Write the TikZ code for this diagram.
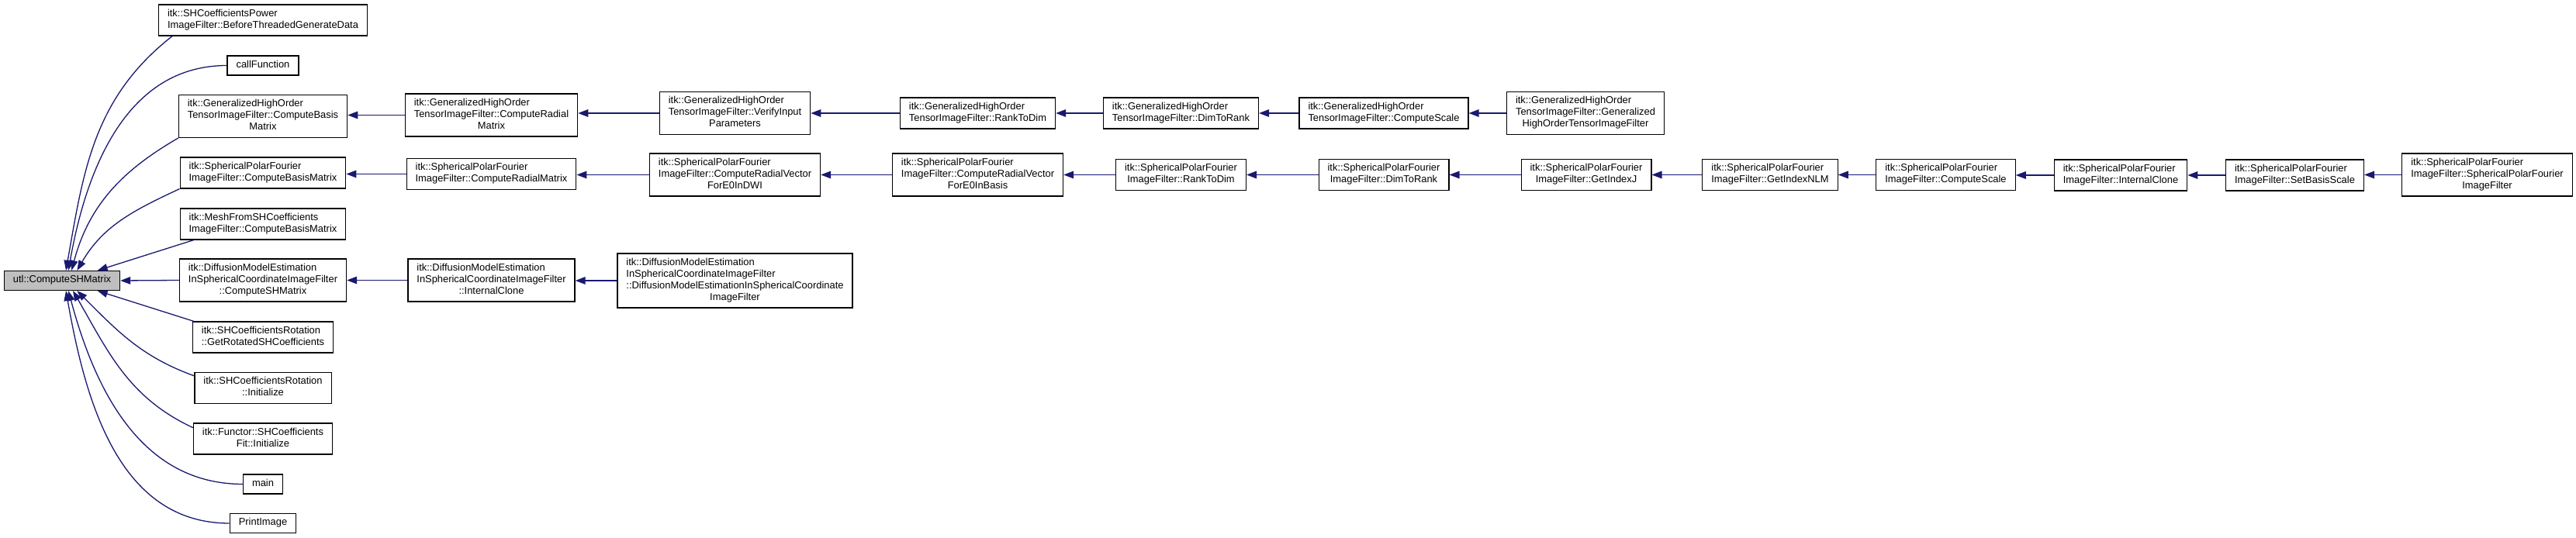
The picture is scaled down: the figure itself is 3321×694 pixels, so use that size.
\documentclass[tikz,border=0pt]{standalone}
\usepackage{fontspec}
\newfontfamily\doxfont{Liberation Sans}
\usetikzlibrary{arrows.meta}
\definecolor{DOX-NAVY}{RGB}{25, 25, 112}
\definecolor{DOX-GREY}{RGB}{191, 191, 191}
\newcommand{\fnlabel}[2]{\begin{tabular}{@{}l@{}}#1\\\multicolumn{1}{@{}c@{}}{#2}\end{tabular}}
\tikzset{
  fnbox/.style={draw=black, line width=0.6pt, fill=white, inner xsep=5.75pt, inner ysep=2.5pt,
    font=\doxfont\fontsize{6.45}{7.5}\selectfont},
  call/.style={DOX-NAVY, line width=0.65pt, >={Triangle[length=6.5pt,width=4.8pt]}},
}

\begin{document}
\begin{tikzpicture}[x=0.5pt, y=-0.5pt]
  \useasboundingbox (0,0) rectangle (3321,694);

  % Function of interest
  \node[fnbox, fill=DOX-GREY] (utl) at (80,362) {\strut utl::ComputeSHMatrix};

  % Direct callers
  \node[fnbox] (beforeTGD) at (339,26) {\fnlabel{itk::SHCoefficientsPower}{ImageFilter::BeforeThreadedGenerateData}};
  \node[fnbox] (callFn) at (339,84.5) {\strut callFunction};
  \node[fnbox] (ghoBasis) at (339,150) {\fnlabel{itk::GeneralizedHighOrder\\TensorImageFilter::ComputeBasis}{Matrix}};
  \node[fnbox] (spfBasis) at (339,223) {\fnlabel{itk::SphericalPolarFourier}{ImageFilter::ComputeBasisMatrix}};
  \node[fnbox] (meshBasis) at (339,289) {\fnlabel{itk::MeshFromSHCoefficients}{ImageFilter::ComputeBasisMatrix}};
  \node[fnbox] (dmeSH) at (339,361.5) {\fnlabel{itk::DiffusionModelEstimation\\InSphericalCoordinateImageFilter}{::ComputeSHMatrix}};
  \node[fnbox] (rotGet) at (339,435) {\fnlabel{itk::SHCoefficientsRotation}{::GetRotatedSHCoefficients}};
  \node[fnbox] (rotInit) at (339,500.5) {\fnlabel{itk::SHCoefficientsRotation}{::Initialize}};
  \node[fnbox] (fitInit) at (339,566) {\fnlabel{itk::Functor::SHCoefficients}{Fit::Initialize}};
  \node[fnbox] (mainFn) at (339,624.5) {\strut main};
  \node[fnbox] (printImg) at (339,675) {\strut PrintImage};

  % GeneralizedHighOrderTensorImageFilter chain
  \node[fnbox] (ghoRadial) at (633.5,148.5) {\fnlabel{itk::GeneralizedHighOrder\\TensorImageFilter::ComputeRadial}{Matrix}};
  \node[fnbox] (ghoVerify) at (947.5,146) {\fnlabel{itk::GeneralizedHighOrder\\TensorImageFilter::VerifyInput}{Parameters}};
  \node[fnbox] (ghoR2D) at (1260.5,146) {\fnlabel{itk::GeneralizedHighOrder}{TensorImageFilter::RankToDim}};
  \node[fnbox] (ghoD2R) at (1522.5,146) {\fnlabel{itk::GeneralizedHighOrder}{TensorImageFilter::DimToRank}};
  \node[fnbox] (ghoScale) at (1784,146) {\fnlabel{itk::GeneralizedHighOrder}{TensorImageFilter::ComputeScale}};
  \node[fnbox] (ghoCtor) at (2044,146) {\fnlabel{itk::GeneralizedHighOrder\\TensorImageFilter::Generalized}{HighOrderTensorImageFilter}};

  % SphericalPolarFourierImageFilter chain
  \node[fnbox] (spfRadial) at (633.5,224.5) {\fnlabel{itk::SphericalPolarFourier}{ImageFilter::ComputeRadialMatrix}};
  \node[fnbox] (spfVecDWI) at (947.5,225.5) {\fnlabel{itk::SphericalPolarFourier\\ImageFilter::ComputeRadialVector}{ForE0InDWI}};
  \node[fnbox] (spfVecBasis) at (1260.5,225.5) {\fnlabel{itk::SphericalPolarFourier\\ImageFilter::ComputeRadialVector}{ForE0InBasis}};
  \node[fnbox] (spfR2D) at (1522.5,225.5) {\fnlabel{itk::SphericalPolarFourier}{ImageFilter::RankToDim}};
  \node[fnbox] (spfD2R) at (1784,225.5) {\fnlabel{itk::SphericalPolarFourier}{ImageFilter::DimToRank}};
  \node[fnbox] (spfJ) at (2045,225.5) {\fnlabel{itk::SphericalPolarFourier}{ImageFilter::GetIndexJ}};
  \node[fnbox] (spfNLM) at (2282,225.5) {\fnlabel{itk::SphericalPolarFourier}{ImageFilter::GetIndexNLM}};
  \node[fnbox] (spfScale) at (2508.5,225.5) {\fnlabel{itk::SphericalPolarFourier}{ImageFilter::ComputeScale}};
  \node[fnbox] (spfClone) at (2734,226) {\fnlabel{itk::SphericalPolarFourier}{ImageFilter::InternalClone}};
  \node[fnbox] (spfSetScale) at (2958.5,226) {\fnlabel{itk::SphericalPolarFourier}{ImageFilter::SetBasisScale}};
  \node[fnbox] (spfCtor) at (3206.5,225.5) {\fnlabel{itk::SphericalPolarFourier\\ImageFilter::SphericalPolarFourier}{ImageFilter}};

  % DiffusionModelEstimation chain
  \node[fnbox] (dmeClone) at (633.5,361.5) {\fnlabel{itk::DiffusionModelEstimation\\InSphericalCoordinateImageFilter}{::InternalClone}};
  \node[fnbox] (dmeCtor) at (947.5,362) {\fnlabel{itk::DiffusionModelEstimation\\InSphericalCoordinateImageFilter\\::DiffusionModelEstimationInSphericalCoordinate}{ImageFilter}};

  % Edges into utl::ComputeSHMatrix
  \draw[call, <-] (utl.69) to[out=80, in=218] (beforeTGD.190);
  \draw[call, <-] (utl.58) to[out=80, in=180] (callFn.west);
  \draw[call, <-] (utl.47) to[out=75, in=210] (ghoBasis.south west);
  \draw[call, <-] (utl.34) to[out=60, in=205] (spfBasis.south west);
  \draw[call, <-] (utl.16) -- (meshBasis.193);
  \draw[call, <-] (utl.east) -- (dmeSH.west);
  \draw[call, <-] (utl.-16) -- (rotGet.167);
  \draw[call, <-] (utl.-34) to[out=-45, in=160] (rotInit.170);
  \draw[call, <-] (utl.-43) to[out=-60, in=155] (fitInit.171);
  \draw[call, <-] (utl.-58) to[out=-75, in=180] (mainFn.west);
  \draw[call, <-] (utl.-69) to[out=-80, in=180] (printImg.west);

  % Row edges
  \draw[call, <-] (ghoBasis.east |- ghoRadial.west) -- (ghoRadial.west);
  \draw[call, <-] (ghoRadial.east |- ghoVerify.west) -- (ghoVerify.west);
  \draw[call, <-] (ghoVerify.east |- ghoR2D.west) -- (ghoR2D.west);
  \draw[call, <-] (ghoR2D.east) -- (ghoD2R.west);
  \draw[call, <-] (ghoD2R.east) -- (ghoScale.west);
  \draw[call, <-] (ghoScale.east) -- (ghoCtor.west);

  \draw[call, <-] (spfBasis.east |- spfRadial.west) -- (spfRadial.west);
  \draw[call, <-] (spfRadial.east |- spfVecDWI.west) -- (spfVecDWI.west);
  \draw[call, <-] (spfVecDWI.east) -- (spfVecBasis.west);
  \draw[call, <-] (spfVecBasis.east) -- (spfR2D.west);
  \draw[call, <-] (spfR2D.east) -- (spfD2R.west);
  \draw[call, <-] (spfD2R.east) -- (spfJ.west);
  \draw[call, <-] (spfJ.east) -- (spfNLM.west);
  \draw[call, <-] (spfNLM.east) -- (spfScale.west);
  \draw[call, <-] (spfScale.east |- spfClone.west) -- (spfClone.west);
  \draw[call, <-] (spfClone.east) -- (spfSetScale.west);
  \draw[call, <-] (spfSetScale.east |- spfCtor.west) -- (spfCtor.west);

  \draw[call, <-] (dmeSH.east) -- (dmeClone.west);
  \draw[call, <-] (dmeClone.east |- dmeCtor.west) -- (dmeCtor.west);
\end{tikzpicture}
\end{document}
